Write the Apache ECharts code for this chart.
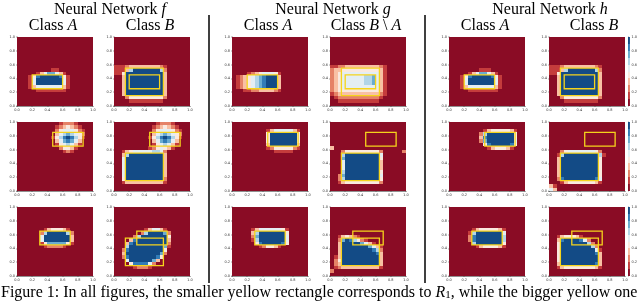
<!DOCTYPE html>
<html><head><meta charset="utf-8">
<script src="https://cdn.jsdelivr.net/npm/echarts@6/dist/echarts.min.js"></script>
<style>html,body{margin:0;padding:0;background:#fff}#c{width:640px;height:301px}</style>
</head><body><div id="c"></div>
<script>
// ---------- data ----------
const N = 20; // grid resolution of each field
const Z = '00000000000000000000';
// levels 0 (dark red, value 0) .. 9 (dark blue, value 1); rows listed from y=1 (top) down to y=0
const F_A_1 = [Z,Z,Z,Z,Z,Z,Z,Z,Z,'00000000011000000000','00000135775310000000','00014899999841000000','00015999999951000000','00015999999951000000','00013555555531000000','00000111111110000000',Z,Z,Z,Z];
const F_B_1 = [Z,Z,Z,Z,Z,Z,Z,Z,'11123333333321000000','11136999999962000000','11499999999993000000','00399999999993000000','00399999999993000000','00399999999993000000','00399999999993000000','00399999999993000000','00399999999993000000','00024444444442000000','00001111111110000000',Z];
const G_A_1 = [Z,Z,Z,Z,Z,Z,Z,Z,Z,Z,'00001234555410000000','01234567899930000000','01234567899930000000','01234567899930000000','01234567899930000000','00011223333210000000',Z,Z,Z,Z];
const G_BA_1 = [Z,Z,Z,Z,Z,Z,Z,Z,'11223333333332100000','23344444444443100000','23455555555553100000','23455555566753100000','23455555566753100000','23455555566753100000','23455555555553100000','23444444444443100000','12333333333332100000','01222222222221000000','00111111111110000000',Z];
const H_A_1 = [Z,Z,Z,Z,Z,Z,Z,Z,Z,'00000000111000000000','00000135775310000000','00014899999841000000','00015999999951000000','00015999999951000000','00013555555531000000','00000111111110000000',Z,Z,Z,Z];
const H_B_1 = [Z,Z,Z,Z,Z,Z,Z,Z,'11123333333321000000','11136999999962000000','11499999999993000000','00399999999993000000','00399999999993000000','00399999999993000000','00399999999993000000','00399999999993000000','00399999999993000000','00024444444442000000','00001111111110000000',Z];

const F_A_2 = ['00000000000122210000','00000000001234321000','00000000002455542100','00000000003567654200','00000000014689864100','00000000003578753000','00000000001456531000','00000000000244310000','00000000000012100000',Z,Z,Z,Z,Z,Z,Z,Z,Z,Z,Z];
const F_B_2 = ['00000000000122210000','00000000001234321000','00000000002455542100','00000000003567654200','00000000014689864100','00000000003578753000','00000000001456531000','00000000012454310000','00134555556652000000','00369999999993000000','00599999999993000000','00599999999993000000','00599999999993000000','00599999999993000000','00599999999993000000','00599999999993000000','00499999999992000000','00133333333331000000',Z,Z];
const G_A_2 = [Z,Z,'00000000013555553100','00000000049999999400','00000000049999999400','00000000049999999400','00000000039999999300','00000000012444442100','00000000000111110000',Z,Z,Z,Z,Z,Z,Z,Z,Z,Z,Z];
const G_BA_2 = [Z,Z,Z,Z,Z,Z,Z,'30000000000000000000','00024444444442000002','00069999999995000000','00079999999994000000','00059999999993000000','00059999999993000000','00059999999993000000','00069999999994000000','00279999999995000000','00269999999994000000','00134444444442000000',Z,Z];
const H_A_2 = [Z,Z,'00000000013444443100','00000000269999999400','00000000389999999400','00000000279999999500','00000000048999998400','00000000001344431000',Z,Z,Z,Z,Z,Z,Z,Z,Z,Z,Z,Z];
const H_B_2 = [Z,Z,Z,Z,Z,Z,Z,Z,'00024555555542000000','00169999999996100000','00399999999994000000','00399999999994000000','00399999999994000000','00399999999994000000','00399999999994000000','00399999999994000000','00289999999985000000','00013444444431000000','31000000000000000000','53000000000000000000'];

const F_A_3 = [Z,Z,Z,Z,Z,Z,'00000001344431000000','00000026999996200000','00000059999999300000','00000059999999300000','00000014777774100000','00000001222210000000',Z,Z,Z,Z,Z,Z,Z,Z];
const F_B_3 = [Z,Z,Z,Z,Z,Z,'00000000135531000000','00000002699997200000','00000269999999400000','00003899999999300000','00038999999999200000','00069999999997100000','00289999999994000000','00399999999972000000','00289999999840000000','00059999997300000000','00004888852000000000','00000122210000000000',Z,Z];
const G_A_3 = [Z,Z,Z,Z,Z,Z,'00000135555554100000','00000369999999400000','00000279999999500000','00000169999999500000','00000048999998400000','00000001244310000000',Z,Z,Z,Z,Z,Z,Z,Z];
const G_BA_3 = [Z,Z,Z,Z,Z,Z,Z,Z,'00134321000000000000','00279864210000000000','00399999753100000000','00399999997531000000','00399999999862000000','00399999999983000000','01399999999993000000','02499999999993000000','02399999999993000000','01233333333331000000','20000000000000000000',Z];
const H_A_3 = [Z,Z,Z,Z,Z,Z,'00000013444443100000','00000169999999500000','00000289999999600000','00000289999999600000','00000069999999400000','00000001344443100000',Z,Z,Z,Z,Z,Z,Z,Z];
const H_B_3 = [Z,Z,Z,Z,Z,Z,Z,Z,'00134443100000000000','00389999852000000000','00499999996200000000','00499999999620000000','00499999999951000000','00499999999983000000','00499999999993000000','00499999999993000000','00399999999983000000','00134444444431000000',Z,Z];

// yellow rectangles [x0, y0, x1, y1]
const RECT_A_ROW1 = [0.2, 0.25, 0.6, 0.45];
const RECT_A_ROW2 = [0.47, 0.65, 0.87, 0.85];
const RECT_A_ROW3 = [0.3, 0.45, 0.7, 0.65];
const RECT_B = [0.15, 0.15, 0.65, 0.55];

const TICK_STEP = 0.2;
const COLORBAR_LEVELS = [0,1,2,3,4,5,6,7,8,9];
const NETWORKS = ['f', 'g', 'h'];

// ---------- style / layout ----------
const LEVEL_COLORS = ['#8a0c25','#c43c3c','#e58267','#f9c0a4','#fae9df','#e4eef3','#b2d5e7','#6aacd0','#327cb7','#134b86'];
const GRID_LEFT = [17, 114, 232, 330, 449, 549];
const GRID_TOP = [37, 122, 207];
const GRID_W = 76, GRID_H = 69;

const PANELS = [
  [F_A_1, F_B_1, G_A_1, G_BA_1, H_A_1, H_B_1],
  [F_A_2, F_B_2, G_A_2, G_BA_2, H_A_2, H_B_2],
  [F_A_3, F_B_3, G_A_3, G_BA_3, H_A_3, H_B_3]
];
const RECTS_A = [RECT_A_ROW1, RECT_A_ROW2, RECT_A_ROW3];

function fieldData(rows){
  const out = [];
  rows.forEach((row, j) => {
    for (let i = 0; i < N; i++) out.push([i / N, 1 - (j + 1) / N, +(row[i] || 0)]);
  });
  return out;
}
function renderCell(params, api){
  const x = api.value(0), y = api.value(1), l = api.value(2);
  const p0 = api.coord([x, y + 1 / N]), p1 = api.coord([x + 1 / N, y]);
  const x0 = Math.round(p0[0]), y0 = Math.round(p0[1]), x1 = Math.round(p1[0]), y1 = Math.round(p1[1]);
  return {type:'rect', shape:{x:x0, y:y0, width:x1 - x0, height:y1 - y0}, style:{fill:LEVEL_COLORS[l]}};
}
function renderRect(params, api){
  const p0 = api.coord([api.value(0), api.value(3)]), p1 = api.coord([api.value(2), api.value(1)]);
  return {type:'rect', shape:{x:p0[0], y:p0[1], width:p1[0] - p0[0], height:p1[1] - p0[1]},
    style:{fill:'none', stroke:'#f5d41c', lineWidth:1.3}};
}
function renderBar(params, api){
  const l = api.value(1);
  const p0 = api.coord([0, (l + 1) / COLORBAR_LEVELS.length]), p1 = api.coord([1, l / COLORBAR_LEVELS.length]);
  return {type:'rect', shape:{x:p0[0], y:Math.round(p0[1]), width:p1[0] - p0[0], height:Math.round(p1[1]) - Math.round(p0[1])}, style:{fill:LEVEL_COLORS[l]}};
}
function axisCfg(k, show){
  return {type:'value', gridIndex:k, min:0, max:1, interval:TICK_STEP, show:show !== false,
    axisLine:{show:true, onZero:false, lineStyle:{color:'#222', width:0.5}},
    axisTick:{show:true, length:1, lineStyle:{color:'#222', width:0.4}},
    axisLabel:{fontSize:3.5, color:'#333', margin:2, fontFamily:'DejaVu Sans', formatter:v => v.toFixed(1)},
    splitLine:{show:false}};
}

const grid = [], xAxis = [], yAxis = [], series = [];
for (let r = 0; r < 3; r++) {
  for (let c = 0; c < 6; c++) {
    const k = r * 6 + c;
    grid.push({left:GRID_LEFT[c], top:GRID_TOP[r], width:GRID_W, height:GRID_H});
    xAxis.push(axisCfg(k));
    yAxis.push(axisCfg(k));
    series.push({type:'custom', xAxisIndex:k, yAxisIndex:k, clip:true, silent:true, z:2,
      data:fieldData(PANELS[r][c]), renderItem:renderCell});
    const rects = (c % 2 === 0) ? [RECTS_A[r]] : [RECTS_A[r], RECT_B];
    series.push({type:'custom', xAxisIndex:k, yAxisIndex:k, silent:true, z:3, data:rects, renderItem:renderRect});
  }
}
for (let r = 0; r < 3; r++) {
  const k = 18 + r;
  grid.push({left:628, top:GRID_TOP[r], width:4.5, height:GRID_H});
  xAxis.push({type:'value', gridIndex:k, min:0, max:1, show:false});
  const ya = axisCfg(k);
  ya.position = 'right';
  ya.axisLine = {show:false};
  ya.axisLabel.margin = 1.5;
  yAxis.push(ya);
  series.push({type:'custom', xAxisIndex:k, yAxisIndex:k, silent:true, data:COLORBAR_LEVELS.map(l => [0, l]), renderItem:renderBar});
}

const serif = 'Liberation Serif';
const rich = {
  n:{fontFamily:serif, fontSize:16, color:'#000', lineHeight:16},
  i:{fontFamily:serif, fontSize:16, color:'#000', fontStyle:'italic', lineHeight:16},
  s:{fontFamily:serif, fontSize:11, color:'#000', lineHeight:16, verticalAlign:'bottom', padding:[6,0,0,0]}
};
function mkTitle(text, x, y, align){
  return {text, left:x, top:y, textAlign:align || 'center', padding:0, itemGap:0,
    textStyle:{fontFamily:serif, fontSize:16, fontWeight:'normal', color:'#000', lineHeight:16, rich}};
}
const NET_X = [110, 333, 550];
const CLASS_X = [53, 150, 268, 366, 485, 594];
const CLASS_TEXT = ['{n|Class }{i|A}', '{n|Class }{i|B}', '{n|Class }{i|A}', '{n|Class }{i|B}{n| \\ }{i|A}', '{n|Class }{i|A}', '{n|Class }{i|B}'];
const titles = [];
NETWORKS.forEach((n, idx) => titles.push(mkTitle('{n|Neural Network }{i|' + n + '}', NET_X[idx], 1.5)));
CLASS_TEXT.forEach((t, idx) => titles.push(mkTitle(t, CLASS_X[idx], 17.5)));
titles.push(mkTitle('{n|Figure 1: In all figures, the smaller yellow rectangle corresponds to }{i|R}{s|1}{n|, while the bigger yellow one}', 1, 284.5, 'left'));

const option = {
  animation:false,
  backgroundColor:'#fff',
  title:titles,
  graphic:[
    {type:'line', shape:{x1:209, y1:15, x2:209, y2:283}, style:{stroke:'#000', lineWidth:1.5}},
    {type:'line', shape:{x1:425, y1:15, x2:425, y2:283}, style:{stroke:'#000', lineWidth:1.5}}
  ],
  grid, xAxis, yAxis, series
};
const chart = echarts.init(document.getElementById('c'), null, {renderer:'canvas'});
chart.setOption(option);
</script>
</body></html>
